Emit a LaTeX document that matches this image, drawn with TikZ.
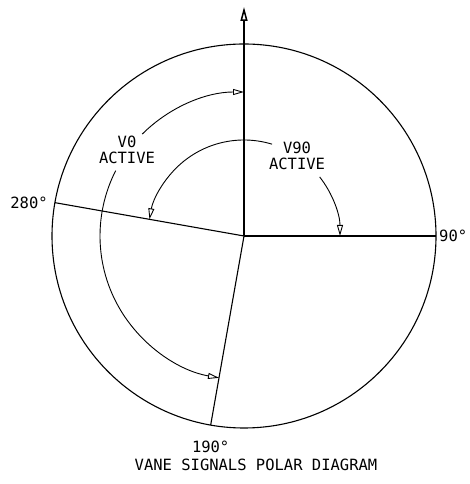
\documentclass[tikz,border=0pt]{standalone}
\usepackage{fontspec}
\setmonofont{DejaVu Sans Mono}
\usetikzlibrary{arrows.meta}

\begin{document}
\begin{tikzpicture}[x=1pt,y=1pt,outline/.style={draw,line width=1.1pt},axis/.style={draw,line width=1.5pt,-{Triangle[open,length=14pt,width=7pt]}},span/.style={draw,line width=0.9pt,-{Triangle[open,length=11pt,width=6pt]}},label/.style={font=\ttfamily\fontsize{15.5}{16}\selectfont,inner sep=3pt},state/.style={label,align=center}]
\useasboundingbox (0,0) rectangle (469,484);
\coordinate (ctr) at (244,248);
\coordinate (top) at (244,477);
\coordinate (e90) at ([shift={(0:192)}]ctr);
\coordinate (e190) at ([shift={(260:192)}]ctr);
\coordinate (e280) at ([shift={(170:192)}]ctr);
\node[label,right] (l90) at (e90) {90°};
\node[label,below=13pt] (l190) at (e190) {190°};
\node[label,left=4pt] (l280) at (e280) {280°};
\node[state] (v0) at (127,334) {V0\\ACTIVE};
\node[state] (v90) at (297,328) {V90\\ACTIVE};
\node[label] (title) at (256,19) {VANE SIGNALS POLAR DIAGRAM};
\draw[outline] (ctr) circle[radius=192];
\path[axis] (ctr) -- (top);
\path[outline] (ctr) -- (e90);
\path[outline] (ctr) -- (e190);
\path[outline] (ctr) -- (e280);
\path[span] ([shift={(135:144)}]ctr) arc[start angle=135,end angle=90,radius=144];
\path[span] ([shift={(153:144)}]ctr) arc[start angle=153,end angle=260,radius=144];
\path[span] ([shift={(73:96)}]ctr) arc[start angle=73,end angle=170,radius=96];
\path[span] ([shift={(38:96)}]ctr) arc[start angle=38,end angle=0,radius=96];
\end{tikzpicture}
\end{document}
